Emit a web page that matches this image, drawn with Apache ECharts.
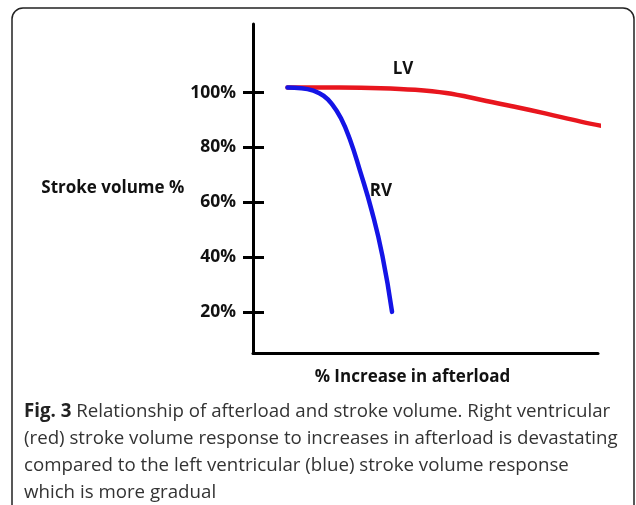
<!DOCTYPE html>
<html>
<head>
<meta charset="utf-8">
<script src="https://cdn.jsdelivr.net/npm/echarts@6/dist/echarts.min.js"></script>
<style>
  html, body { margin: 0; padding: 0; background: #fff; }
  #main { width: 636px; height: 505px; }
</style>
</head>
<body>
<div id="main"></div>
<script>
// values (x = % increase in afterload, arbitrary 0-100 scale)
var lvPoints = [[10, 101.8], [25, 101.8], [37, 101.6], [47, 101.0], [56, 99.8], [66, 97.4], [75.5, 94.9], [85, 92.3], [95, 89.4], [102, 87.6]];
var rvPoints = [[10, 101.8], [14, 101.6], [17.5, 100.7], [20.5, 98.8], [23, 95.6], [25.5, 90.6], [28, 83.2], [31, 71.5], [34.5, 56.5], [37.5, 40.5], [40.3, 20]];
var yTicks = [20, 40, 60, 80, 100];
var lvLabelAt = [43.5, 108.4];
var rvLabelAt = [37.1, 64.2];
var captionLines = [
    ['Fig. 3', ' Relationship of afterload and stroke volume. Right ventricular'],
    ['', '(red) stroke volume response to increases in afterload is devastating'],
    ['', 'compared to the left ventricular (blue) stroke volume response'],
    ['', 'which is more gradual']
];

var chart = echarts.init(document.getElementById('main'));

var font = '"Open Sans", "Noto Sans", sans-serif';

var caption = captionLines.map(function (ln, i) {
    return {
        type: 'text',
        left: 24,
        top: 402 + i * 27,
        style: {
            text: (ln[0] ? '{b|' + ln[0] + '}' : '') + '{n|' + ln[1] + '}',
            rich: {
                b: { fontFamily: font, fontWeight: 'bold', fontSize: 18.7, fill: '#222' },
                n: { fontFamily: font, fontSize: 18.7, fill: '#333' }
            }
        }
    };
});

function labelPoint(text, at) {
    return {
        symbol: 'circle',
        symbolSize: 1,
        itemStyle: { color: 'rgba(0,0,0,0)' },
        label: { show: true, position: 'inside', formatter: text, fontFamily: font, fontWeight: 'bold', fontSize: 17, color: '#111' },
        data: [{ coord: at }]
    };
}

var option = {
    animation: false,
    grid: { left: 253, right: 38, top: 24, bottom: 152 },
    xAxis: {
        type: 'value',
        min: 0,
        max: 100,
        name: '% Increase in afterload',
        nameLocation: 'middle',
        nameGap: 16,
        nameTextStyle: { fontFamily: font, fontWeight: 'bold', fontSize: 17, color: '#111', padding: [0, 26, 0, 0] },
        axisLine: { lineStyle: { color: '#000', width: 3 } },
        axisTick: { show: false },
        axisLabel: { show: false },
        splitLine: { show: false }
    },
    yAxis: [{
        type: 'value',
        min: 5,
        max: 125,
        name: 'Stroke volume %',
        nameLocation: 'middle',
        nameRotate: 0,
        nameGap: 66,
        nameTextStyle: { fontFamily: font, fontWeight: 'bold', fontSize: 17, color: '#111', align: 'right', padding: [0, 0, 10, 0] },
        axisLine: { show: true, lineStyle: { color: '#000', width: 3 } },
        axisTick: { show: true, length: 10, customValues: yTicks, lineStyle: { color: '#000', width: 3 } },
        axisLabel: {
            customValues: yTicks,
            margin: 17,
            fontFamily: font, fontWeight: 'bold', fontSize: 17.5, color: '#111',
            formatter: function (v) { return v + '%'; }
        },
        splitLine: { show: false }
    }, {
        type: 'value',
        min: 5,
        max: 125,
        position: 'left',
        axisLine: { show: false },
        axisTick: { show: true, inside: true, length: 11, customValues: yTicks, lineStyle: { color: '#000', width: 3 } },
        axisLabel: { show: false },
        splitLine: { show: false }
    }],
    graphic: [{
        type: 'rect',
        silent: true,
        shape: { x: 12, y: 8, width: 622, height: 530, r: 11 },
        style: { fill: 'none', stroke: '#222', lineWidth: 1.5 }
    }].concat(caption),
    series: [{
        name: 'LV',
        type: 'line',
        data: lvPoints,
        smooth: 0.4,
        symbol: 'none',
        clip: false,
        lineStyle: { color: '#e8161e', width: 4.5, cap: 'round' },
        markPoint: labelPoint('LV', lvLabelAt)
    }, {
        name: 'RV',
        type: 'line',
        data: rvPoints,
        smooth: 0.5,
        symbol: 'none',
        clip: false,
        lineStyle: { color: '#1414e6', width: 4.5, cap: 'round' },
        markPoint: labelPoint('RV', rvLabelAt)
    }]
};

chart.setOption(option);
</script>
</body>
</html>
